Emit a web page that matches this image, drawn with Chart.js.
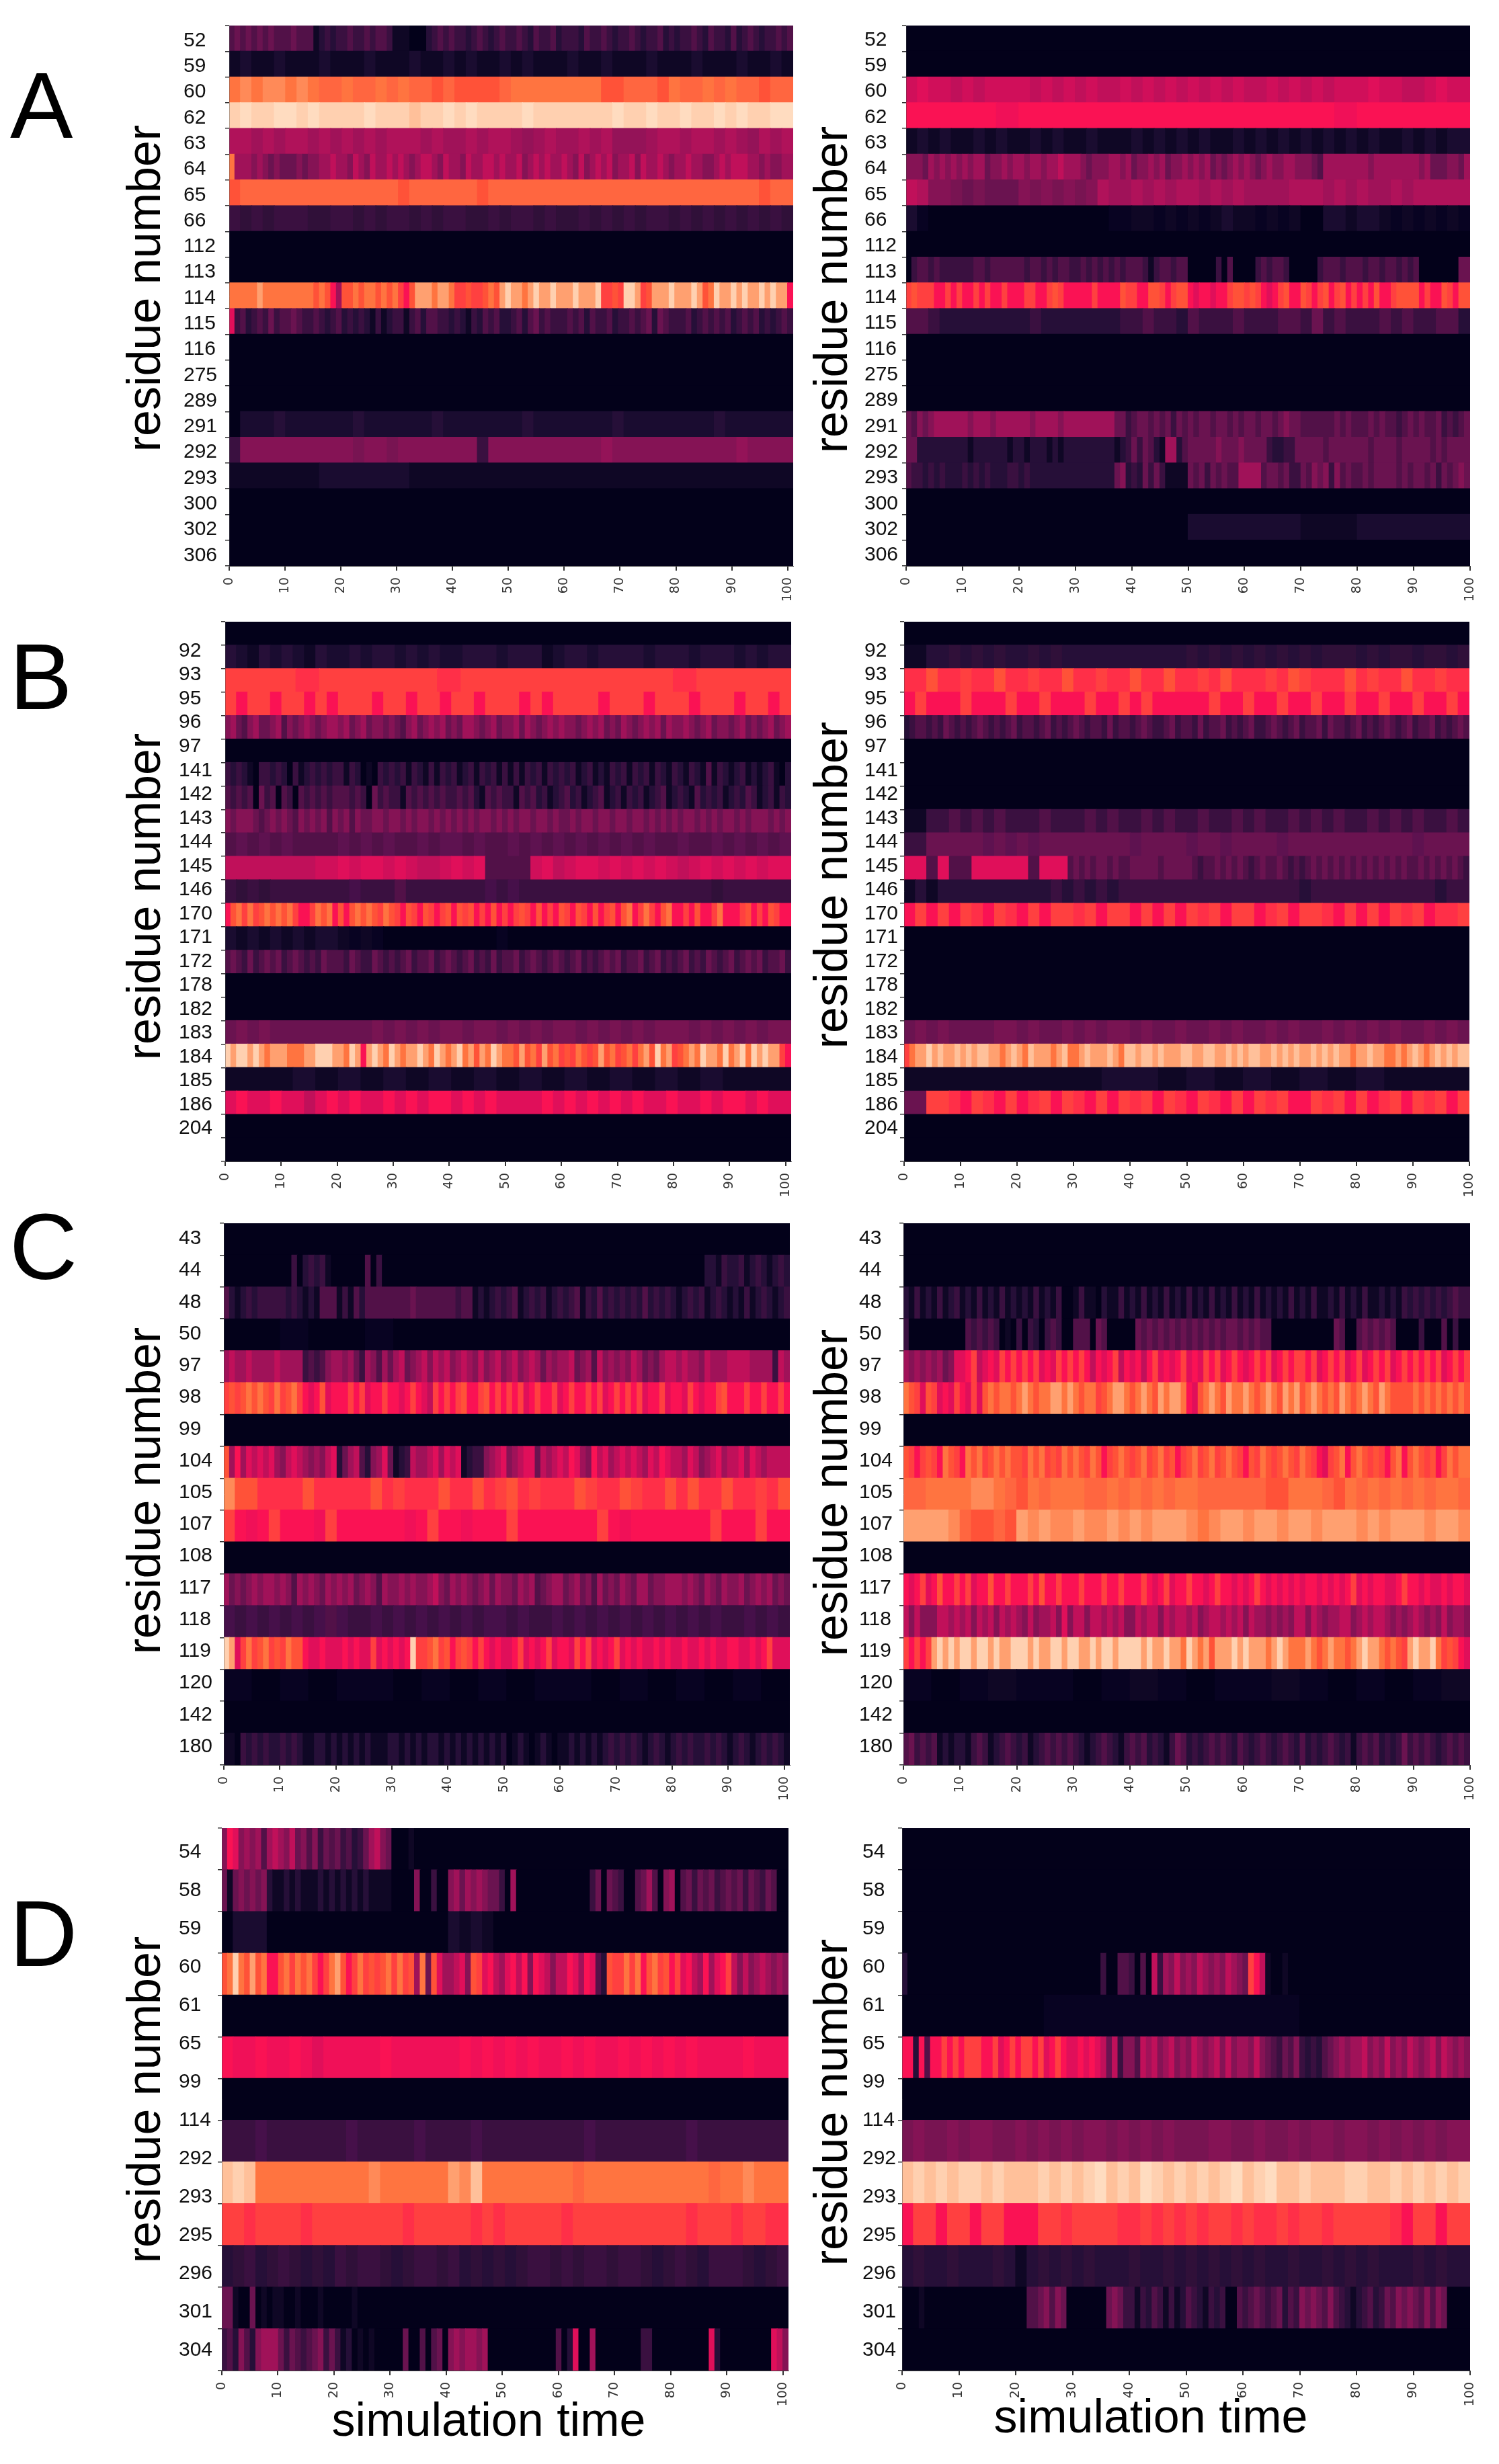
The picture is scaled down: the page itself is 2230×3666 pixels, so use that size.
<!DOCTYPE html>
<html>
<head>
<meta charset="utf-8">
<title>residue contacts</title>
<script src="https://cdn.jsdelivr.net/npm/chart.js@4"></script>
<style>
  html, body { margin: 0; background: #fff; }
  #page { position: relative; width: 2230px; height: 3666px; overflow: hidden; font-family: "Liberation Sans", Arial, sans-serif; color: #000; }
  canvas { position: absolute; filter: blur(0.6px); }
  .letter { position: absolute; font-size: 140px; line-height: 1; }
  .ytitle, .xtitle { position: absolute; font-size: 70px; line-height: 1; white-space: nowrap; }
  .ytitle { transform: translate(-50%, -50%) rotate(-90deg); }
  .xtitle { transform: translate(-50%, -50%); }
</style>
</head>
<body>
<div id="page"></div>
<script>
// colour levels, darkest to lightest; levelKeys is the char used for each in the rows below
const levelKeys = '0u1t2s3r4q5o6p7m8n9jaibcldhegfk';
const levelColors = ['#03011a','#080322','#0f0725','#1a0c30','#260f38','#301039','#3a1040','#46104a',
                     '#521148','#5e1250','#6a1350','#781452','#851355','#941358','#a01259','#b0125a',
                     '#c0105a','#d00f5a','#e00f5a','#f01058','#fa1254','#ff2f48','#ff4040','#ff5238',
                     '#ff6640','#ff7440','#ff8a58','#ffa070','#ffc09a','#ffd0b0','#ffdcc0'];
const timeTicks = [0,10,20,30,40,50,60,70,80,90,100];

// each row is a string of levels, one char per time slice (a row can use few slices when it is flat)
const a1Residues = ['52','59','60','62','63','64','65','66','112','113','114','115','116','275','289','291','292','293','300','302','306'];
const a1Levels = [
  '4545454544 4544412323 3433434431 1100023434 3323432343 3432433423 3324334323 3432334232 3343243324 2343233434',
  '1t11t111t1 11t111t11t 1t11t1t111 t11t111t11 1t111t11t1',
  'dhdhhdhdll dlldldllcl cccclddddd dddcclllcd lldldllcll',
  'fkffkkfkff ffkfffgffk fkffffkfff ffffkffkff kffkfkffkk',
  'mm7m7mm7m7 m7m7mmm7m7 7m7mm7p7m7 7m7mppp7mm 7mm7m7pm7m',
  'd777676565 5565667787 7687687787 8767887687 7687788787 7867878778 7686787867 7868778767 7877667878 8877676677',
  'clllllllll lllllcllll llclllllll llllllllll lllllllcll',
  '3s3s333ss3 3s3s33s3s3 3ss3s33s3s s3s3s3s33s 3s3s3s3s3s',
  '0',
  '0',
  'dddddedddd dddddcdca7 ccdcddcdcd baceeedeed bbcbbcdcef eedefeefee efeeefbbcb ffebceeefe eefecdfeef efeefefeea',
  '9342343534 4543343234 2323213123 3134244332 3213243422 3424534333 4342433423 3434525433 3423434342 3434232343',
  '0',
  '0',
  '0',
  '0ttt2ttttt t2tttttt2t tttttt2ttt tttt2ttttt ttt2tttttt',
  '3666666666 6o66o66666 6636666666 666p666666 66666p6666',
  '11111111tt tttttt1111 1111111111 1111111111 1111111111',
  '0',
  '0',
  '0'
];

const a2Residues = a1Residues.slice();
const a2Levels = [
  '0',
  '0',
  'n9nn8n8nnn n8n8n8n88n 8n8n8n8n8n 88n8n8n8nn n9nn88n9nn',
  'aaaajaaaaa aaaaaaaaajaaaaa',
  '1t1t11t1t1 1t1t11t111 t1t1t1t11t 1t1t1t1t1t 1t11t1t1tt',
  '6665767676 7677566767 7677677877 7656667767 5667675667 6767565676 7656766776 6654777777 7767777777 7675556657',
  '8m66o5o555 6o6o6o6m77 m7m7mm7m7m 7777mmm7m7 m77m7mmmmm',
  'tu00000000 00000000uu 11u1u1u1t1 1u1u100tt1 tt1u1u1u1u',
  '0',
  '0344343333 3344344444 4344343443 3434343434 4431344344 0000030400 0034344300 0003444344 4344344343 4000000055',
  'bcbbbaabab aababaabaa abbaabcbaa aaabaaaacb baaccbabcc a9aa9aabcc bcba9abcaa cbabcabcab abacaabccc cabaacbacc',
  '4432222222 2322222223 3433243334 3334435343 3343433442',
  '0',
  '0',
  '0',
  '5465677777 7677767777 7767777677 7777777553 4554545354 5455455454 5545545655 4444445454 4454544345 4544534345',
  '5522222222 2122222212 2122212122 2222222123 5354217724 5555565556 5555322335 5555455555 5545555455 5554545555',
  '4332323222 3232322233 2322222222 2222222562 3253531111 5453545447 7774554533 5465636454 4545555454 5545354565',
  '0',
  '0000000000 tttt11tttt',
  '0'
];

// B has one unlabelled row above and one below
const b1Residues = ['92','93','95','96','97','141','142','143','144','145','146','170','171','172','178','182','183','184','185','186','204'];
const b1Levels = [
  '0',
  '2t12t2t12t t2t22t2t2t t222t2221t 22t2222t22 2t222t2t22',
  'bbbibbbbbibbbbbbbbbibbbb',
  'babbabbaba bbbabbabba bbabbbabab bbbabbbabb babbbabbab',
  '6754675567 4656765677 6756756656 5467567675 6577656756 6757656767 6656767565 7656767576 6765675665 6756567567',
  '0',
  '3232103323 2031232323 3132010323 2313213132 3123132313 1313231323 2312312132 3132313213 2132141321 2312123102',
  '4343405340 4304343434 4434305343 3143434343 3434214343 3143423123 4231234123 1323123412 3214232312 3243123132',
  '6566654565 6546565646 5646556656 6565665656 5656566565 6566566565 5656656656 6566565656 5665656566 5656665656',
  '4q4q4q4444 q4q4q44q4q q4q44q4q4q 4q4q4q4q44 q44q4q4q4q',
  '88888888nn 9n99n9n88n 9n94444n98 n99n9n9n9n 8n9n9n9n99',
  '3s3s333333 3r33343333 333r3r3333 3333333333 333s333333',
  'acdbdbcdcd cdbaabdcda cacdcdcbdc bacbacbabc acbcabacab abcbacabac bacbacabca cdabdbacda abacaabdaa abcabacbaa',
  't1t1t1t1tt 1u1u000000 0000u00000 0000000000 0000000000',
  '4543534545 3454343544 4354335434 3453445345 4345343534 4534543454 3453434545 3445345343 4534354345 3454534453',
  '0',
  '0',
  '5o5o555555 555o5o5o5o o5oo5o5o5o o5o5o5o5oo o5o5o5o5oo',
  'feffefedee edddeefffe edfeaefedf edeefedfed efdecedfed dcecdbecdb cbdcbcecdb cdbdecfdeb cdedfeedfd efdfefeeba',
  '111t1t1t1t1t1t1t1t1t1t111',
  '9a99a9989a 9a99a9a9aa 9a9a9999a9 a9a9a9a99a 99a9aa9a99',
  '0',
  '0'
];

const b2Residues = b1Residues.slice();
const b2Levels = [
  '0',
  '1122s2s2s2 2s2s222222 22222s2s2s 2s2s2s2sss 2s2ss2ss2s',
  'iiciibiici ibiiciibii ciiciibici iibicbiiic ibiiciibii',
  'abaaabaaab aabaaabaab abaaaaabaa baabaabaab aabaabaaba',
  '2344343543 4345434345 3443453434 5434435344 3454334534 4353445343 4533454345 3445354434 5343454345 3445343454',
  '0',
  '0',
  '0',
  '1133434343 3343334343 3434334334 3433434343 3434343343',
  '3355555q5q 5q55555555 q5555q55q5 555q555555 55555q5555',
  '9999449944 4499999999 9944999994 5454554544 5555545555 5434454545 4345445434 3454545454 5454545454 4545454543',
  '1212222222 2223232323 3333333333 3333323333 3333333233',
  'ababab iabi ababbibabb abababibab baibabbiab ababibaiib',
  '0',
  '0',
  '0',
  '0',
  '5o5o5555oo 5o55o5o5oo 5o55o55o5o 55o5o55o5o 5o5o55o5o5',
  'bdeefegeeg egeggeedeg edgeeedegd degeeegedg geggegeeeg geeggeegeg eggeegegeg eegegegeed eegeeddede gedegegegg',
  '1111111tt1t1t1t1t111',
  '55bbiabiab aibabiabab ibabiabiab abibaabiba baibabibab',
  '0',
  '0'
];

const c1Residues = ['43','44','48','50','97','98','99','104','105','107','108','117','118','119','120','142','180'];
const c1Levels = [
  '0',
  '0000000000 0030232310 0000040300 0000000000 0000000000 0000000000 0000000000 0000000000 0000022132 2312321232',
  '4212323333 3232121444 1314244444 4445444444 4344121232 3412323123 2341324232 3232423232 1232312321 2131232123',
  '00u00u00000000000000',
  '7877877778 7777343467 7675376475 7856786878 6787686786 7867875767 7856748676 7687565788 7877687778 8887777387',
  'bcbcdcdcbd bcdba9ac9a aabab9aaba a9aba98bab abcaabcaba bab9abaab9 abaabab9ab abab9aab9a a9ba9aabca aabaabaaba',
  '0',
  'c7a7989897 6898767689 2578426795 1238778979 8912336789 6789958789 8a976a8978 9898798a98 8798678978 8979878888',
  'hcciiiicii iiicibiiic iicibcibii icbiicbiic iciiciibic',
  'bajabaaajb aaaaaajaba ajaaabaaaa aaabajaaaa aaabaaabaa',
  '0',
  '7565676776 7647676576 7675676476 6767667865 7676567576 6576745677 5675647565 7657756677 7676576576 6756767565',
  'r3r3r3r3r4 r33r3r3r3r 3r3rr3r33r 3r3r3r3r3r 3r3r33r3r3',
  'fe9bdbcdbc bdcca99a99 9a9a99b9a9 a9afbbcdbc abcbaba9a9 9ab9a9ab9a a9bab9a9ab 9a9a99a9a9 9a99a9a99a a99a9ab999',
  'u0u0uu0u0u 0uu0u0u0u0',
  '0',
  '1103232322 3232112212 1212121112 2121212212 1212121212 0121012101 1212121232 3232123212 3232232321 2321232321'
];

const c2Residues = c1Residues.slice();
const c2Levels = [
  '0',
  '0',
  '2131213123 1213121312 1213121300 1311021131 2131213121 3121312131 2131212131 2131121312 1311212132 3232323433',
  '3000000000 0434343010 3032034300 4440540000 0545454545 4545454554 5454400000 0000005400 4545454000 0300040300',
  '7676767569 9ab89a9bab abab9a9bab aba8a9ab8a 9a8ab9a9ab 9a9bab9aba 9abab9abab bab9abab9a b9abab9aba babab9abab',
  'dcb9cb9a9b a9b9cdcddc dedcddeede dcddbcdeed cdedcedeed a9cdedcedd edcdedcede cdedcdcedc dedcedcccc dcdcdcdcdc',
  '0',
  'cbabcbadcb adcdbcdcdc cbdcdbcbdc dcbdcabcdc bcdbcdbcab cdbcdbcdcb acbdcbcdcb dcba9bcdac dcbcbacdac dcbcabdcdd',
  'llddddhhdl cdldddlldl dldlddllll llccdddlcd ldldldlddl',
  'eeeehlcclc ehehhehheh eheeehdhee heeheeheee heheeeheeh',
  '0',
  'a9ab9acaab ab9aacaaba aabacaabaa abaaabaaba aaba9ab9aa baa9abaa9a 9aba9a9a9a 9aa9a9a9ab 9a9aa99aba a9a99a9aa9',
  '8686668878 7868786878 7686778696 8868878786 6878868788 7867887878 6877676768 8687677886 7878876767 8767686776',
  'bababefefe ffeffefeef ffefeeffef feefeffeff ffefeefeed fedeceeefe feeedefedd dedcdeddcd efeedcdcbe feefdbcba9',
  'u0u1uu0u1u 0uu1u0u0u1',
  '0',
  '4534341212 2134312343 2312343434 3212343213 4342321354 2323434324 3234323432 4232343231 3434232353 4343234343'
];

// D has 14 labels on 13 rows
const d1Residues = ['54','58','59','60','61','65','99','114','292','293','295','296','301','304'];
const d1Levels = [
  '6a96767478 7685646354 5342357865 0001000000 0000000000 0000000000 0000000000 0000000000 0000000000 0000000000',
  '5156565621 1212111212 1212121111 0000600300 6757676553 0700000000 0000035054 3004574067 0453545345 4535435400',
  '0ttt000000 0000000000 t1t1000000 0000000000 0000000000',
  'cdfdcecdaa cdbdcdbabd ecabdbcbcd bdbc7d5c97 7896cb9a87 9a8a6a9868 8a97a942cb bdbdacdbca b9a87a79ab 8686787676',
  '0',
  'ajjajjaj9j jjjjajjjjj jajajajajj ajajjajaja jajjjjajjj',
  '0',
  '333r333333 3r33333r33 33r3333333 33r3333333 3r33333333',
  'gfgddddddd dddhdddddd ehgddddddd dldddddddd dddlddhddd',
  'bbibbbbibb bbbbbbibbb bbibibbbbb ibbbbbbbbb bibbbibbii',
  '2s32s3s2s2 3s33s2s33s 32s2s2s33s 3s33s33s2s 3s2333s2s3',
  '5510050101 1001000100 0001000000 0000000000 0000000000 0000000000 0000000000 0000000000 0000000000 0000000000',
  '3426426777 5354345635 3120101000 0050040450 6767767000 0000000004 0290070000 0000330000 0000009200 0000000986'
];

const d2Residues = d1Residues.slice();
const d2Levels = [
  '0',
  '0',
  '0',
  '2000000000 0000000000 0000000000 0000030044 3040837686 7687676876 5ba8100100 0000000000 0000000000 0000000000',
  '00000uuuuuuuuu000000',
  'aa2a4aabab abbbaab9ab abbab9aba9 9a9a985836 6487867867 6876786867 7686543546 3232456767 7867686768 7678687676',
  '0',
  'o6oo6o66oo 6o6o6o66o6 o6o6ooo66o o6oo6o66o6 6o6o6o6o66',
  'gfgfgffgfg ggfgfgfkgf gkfgfgfgfk gfkggfgggf fggfgfgfgf',
  'abbabbabba aabbibbbbi ibibibibbi biibibbibb bbbiabbabb',
  '2s22s222s2 12s2s2s222 s22s2s2s2s 2s22s22s2s 2s222s2s22',
  '0001000000 0000000000 0044564650 0000005653 3132431312 4321323004 3454345243 6565464321 2342354656 5464650000',
  '0'
];

// where each panel sits on the page
const panels = [
  { residues: a1Residues, levels: a1Levels, tMax: 101, labelX: 273,  left: 341,  right: 1180, top: 38,   bottom: 842,  firstLabel: 0.59, labelStep: 1,      titleX: 214,  titleY: 429 },
  { residues: a2Residues, levels: a2Levels, tMax: 100, labelX: 1286, left: 1348, right: 2187, top: 38,   bottom: 842,  firstLabel: 0.56, labelStep: 1.001,  titleX: 1236, titleY: 431 },
  { residues: b1Residues, levels: b1Levels, tMax: 101, labelX: 266,  left: 335,  right: 1177, top: 925,  bottom: 1728, firstLabel: 1.25, labelStep: 1.0175, titleX: 214,  titleY: 1334 },
  { residues: b2Residues, levels: b2Levels, tMax: 100, labelX: 1286, left: 1345, right: 2186, top: 925,  bottom: 1728, firstLabel: 1.25, labelStep: 1.0175, titleX: 1236, titleY: 1317 },
  { residues: c1Residues, levels: c1Levels, tMax: 101, labelX: 266,  left: 333,  right: 1175, top: 1820, bottom: 2626, firstLabel: 0.485,labelStep: 0.996,  titleX: 214,  titleY: 2218 },
  { residues: c2Residues, levels: c2Levels, tMax: 100, labelX: 1278, left: 1344, right: 2187, top: 1820, bottom: 2626, firstLabel: 0.485,labelStep: 0.996,  titleX: 1236, titleY: 2221 },
  { residues: d1Residues, levels: d1Levels, tMax: 101, labelX: 266,  left: 330,  right: 1173, top: 2720, bottom: 3527, firstLabel: 0.575,labelStep: 0.9187, titleX: 214,  titleY: 3124 },
  { residues: d2Residues, levels: d2Levels, tMax: 100, labelX: 1283, left: 1342, right: 2187, top: 2720, bottom: 3527, firstLabel: 0.575,labelStep: 0.9187, titleX: 1236, titleY: 3128 }
];

const page = document.getElementById('page');

function addText(cls, text, css) {
  const el = document.createElement('div');
  el.className = cls;
  el.textContent = text;
  Object.assign(el.style, css);
  page.appendChild(el);
}

// rows with merged slices, so flat stretches are one bar
function buildCells(rowNames, levels, tMax) {
  const cells = [];
  levels.forEach((row, r) => {
    const chars = row.replace(/ /g, '');
    const step = tMax / chars.length;
    let start = 0;
    for (let i = 1; i <= chars.length; i++) {
      if (chars[i] !== chars[start]) {
        cells.push({ x: [start * step, i * step], y: rowNames[r], level: levelKeys.indexOf(chars[start]) });
        start = i;
      }
    }
  });
  return cells;
}

function rowNamesFor(p) {
  const n = p.levels.length;
  if (n === p.residues.length + 2) return ['', ...p.residues, ' '];
  return p.residues.slice(0, n);
}

panels.forEach(p => {
  const rowNames = rowNamesFor(p);
  const cells = buildCells(rowNames, p.levels, p.tMax);
  const padTop = 2, padRight = 14, xAxisHeight = 72, tickWidth = 7;

  const canvas = document.createElement('canvas');
  canvas.width = p.right - p.labelX + padRight;
  canvas.height = p.bottom - p.top + padTop + xAxisHeight;
  canvas.style.left = p.labelX + 'px';
  canvas.style.top = (p.top - padTop) + 'px';
  page.appendChild(canvas);

  new Chart(canvas.getContext('2d'), {
    type: 'bar',
    data: {
      labels: rowNames,
      datasets: [{
        data: cells,
        backgroundColor: cells.map(c => levelColors[c.level]),
        barPercentage: 1,
        categoryPercentage: 1,
        inflateAmount: 0.6,
        borderWidth: 0
      }]
    },
    options: {
      indexAxis: 'y',
      responsive: false,
      animation: false,
      events: [],
      layout: { padding: { top: padTop, right: padRight, left: 0, bottom: 0 } },
      plugins: { legend: { display: false }, tooltip: { enabled: false }, title: { display: false } },
      scales: {
        x: {
          type: 'linear',
          position: 'bottom',
          min: 0,
          max: p.tMax,
          grid: { drawOnChartArea: false, tickLength: 7, color: '#333', lineWidth: 2 },
          border: { display: true, color: '#444' },
          afterBuildTicks: axis => { axis.ticks = timeTicks.map(v => ({ value: v })); },
          ticks: {
            autoSkip: false,
            minRotation: 90,
            maxRotation: 90,
            padding: 10,
            color: '#333',
            font: { family: '"DejaVu Sans"', size: 19 }
          },
          afterFit: axis => { axis.height = xAxisHeight; axis.paddingLeft = 0; axis.paddingRight = 0; }
        },
        y: {
          type: 'category',
          position: 'left',
          weight: 0,
          offset: true,
          grid: { offset: true, drawOnChartArea: false, tickLength: 6, color: '#333', lineWidth: 1.5 },
          border: { display: true, color: '#444' },
          ticks: { display: false, autoSkip: false },
          afterFit: axis => { axis.width = tickWidth; axis.paddingTop = 0; axis.paddingBottom = 0; }
        },
        residueLabels: {
          type: 'linear',
          axis: 'y',
          position: 'left',
          weight: 2,
          reverse: true,
          offset: false, // bar charts turn this on for the index axis
          min: 0,
          max: p.levels.length,
          grid: { display: false },
          border: { display: false },
          afterBuildTicks: axis => {
            axis.ticks = p.residues.map((name, i) => ({ value: p.firstLabel + i * p.labelStep }));
          },
          ticks: {
            autoSkip: false,
            crossAlign: 'far',
            padding: 0,
            color: '#111',
            font: { family: '"Liberation Sans"', size: 30 },
            callback: (value, i) => p.residues[i]
          },
          afterFit: axis => { axis.width = p.left - p.labelX - tickWidth; axis.paddingTop = 0; axis.paddingBottom = 0; }
        }
      }
    }
  });

  addText('ytitle', 'residue number', { left: p.titleX + 'px', top: p.titleY + 'px' });
});

addText('xtitle', 'simulation time', { left: '727px', top: '3600px' });
addText('xtitle', 'simulation time', { left: '1712px', top: '3595px' });

addText('letter', 'A', { left: '15px', top: '87px' });
addText('letter', 'B', { left: '14px', top: '937px' });
addText('letter', 'C', { left: '14px', top: '1785px' });
addText('letter', 'D', { left: '14px', top: '2807px' });
</script>
</body>
</html>
